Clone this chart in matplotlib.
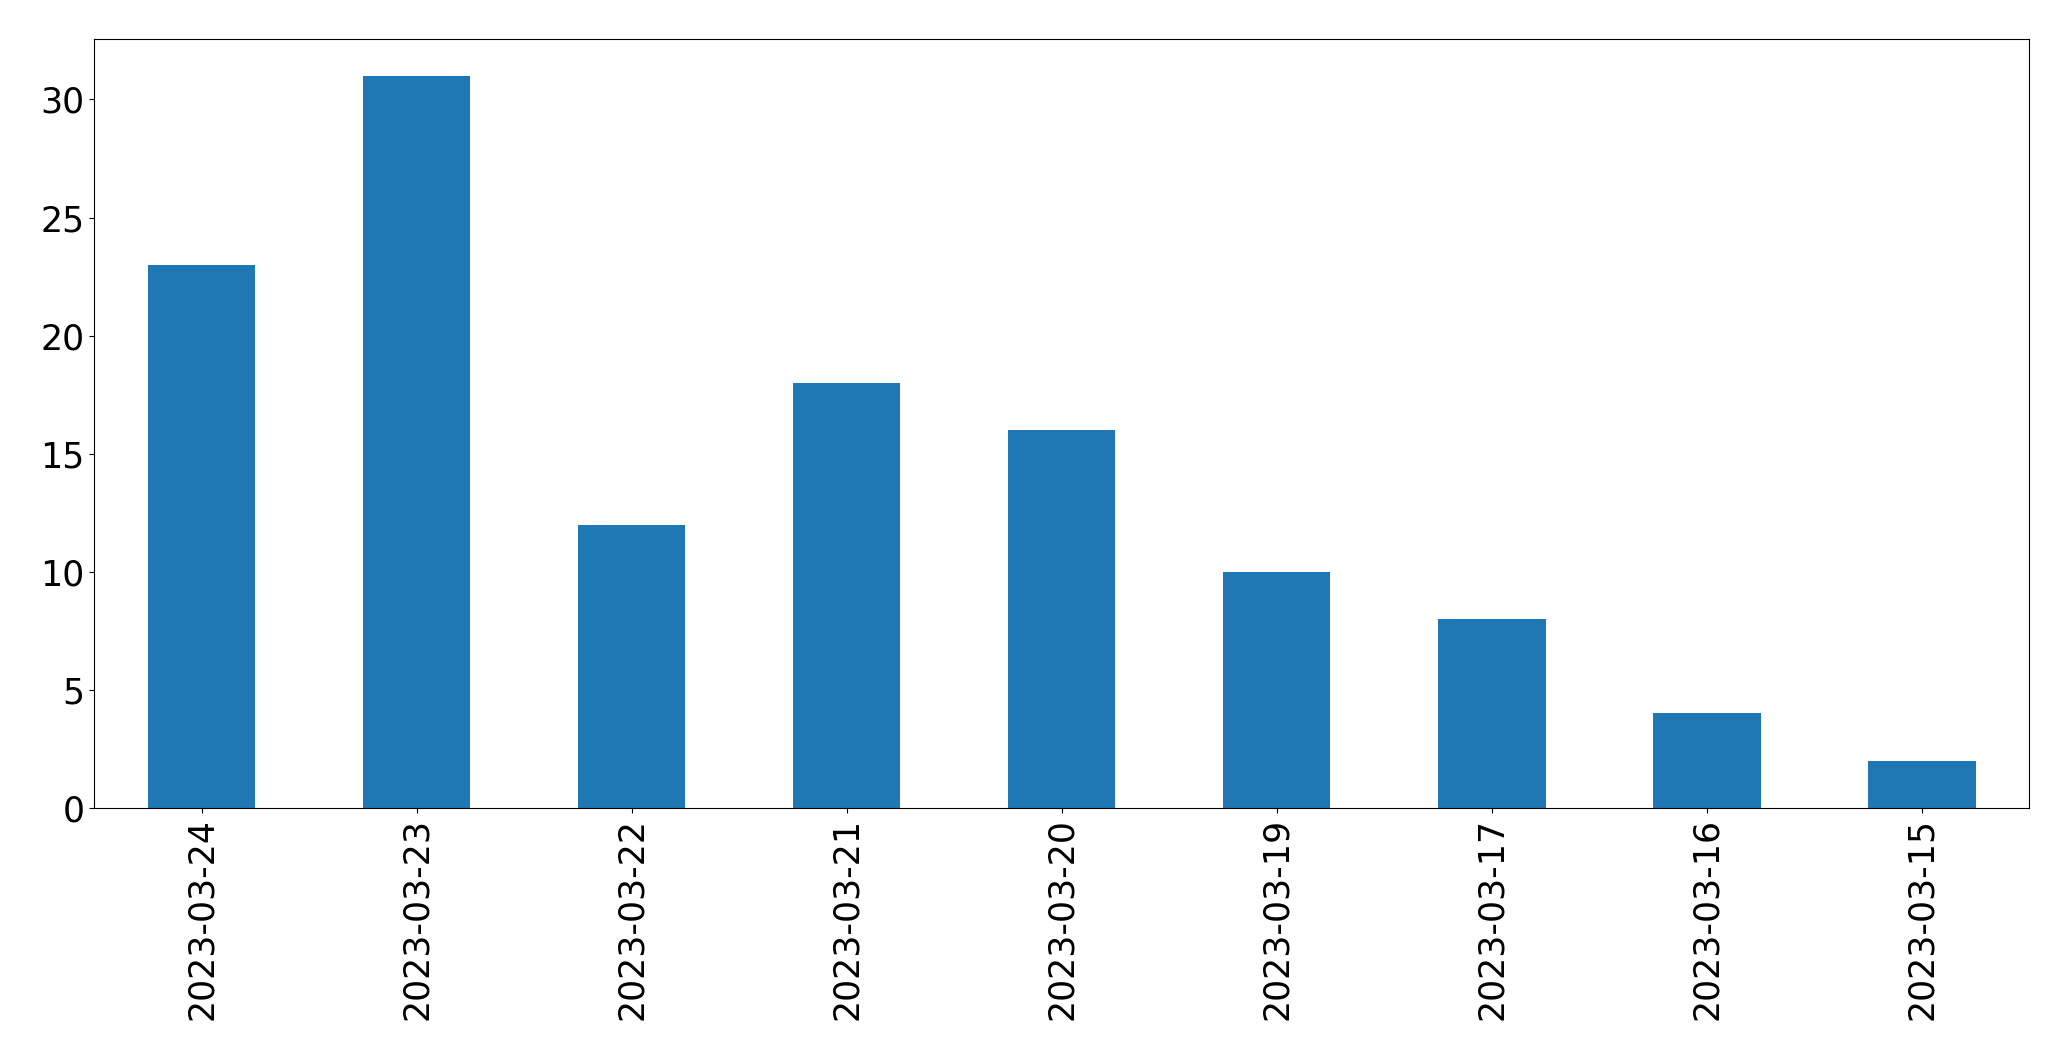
import matplotlib
matplotlib.use("Agg")
import matplotlib.pyplot as plt

dates = [
    "2023-03-24",
    "2023-03-23",
    "2023-03-22",
    "2023-03-21",
    "2023-03-20",
    "2023-03-19",
    "2023-03-17",
    "2023-03-16",
    "2023-03-15",
]
counts = [23, 31, 12, 18, 16, 10, 8, 4, 2]

fig = plt.figure(figsize=(20.71, 10.61), dpi=100)
ax = fig.add_axes([0.0454, 0.2385, 0.9345, 0.7245])
positions = list(range(len(dates)))
ax.bar(positions, counts, width=0.5, color="#1f77b4")
ax.set_xlim(-0.5, len(dates) - 0.5)
ax.set_xticks(positions)
ax.set_xticklabels(dates, rotation=90)
ax.tick_params(axis="both", labelsize=25)
fig.savefig("out.png", dpi=100)
